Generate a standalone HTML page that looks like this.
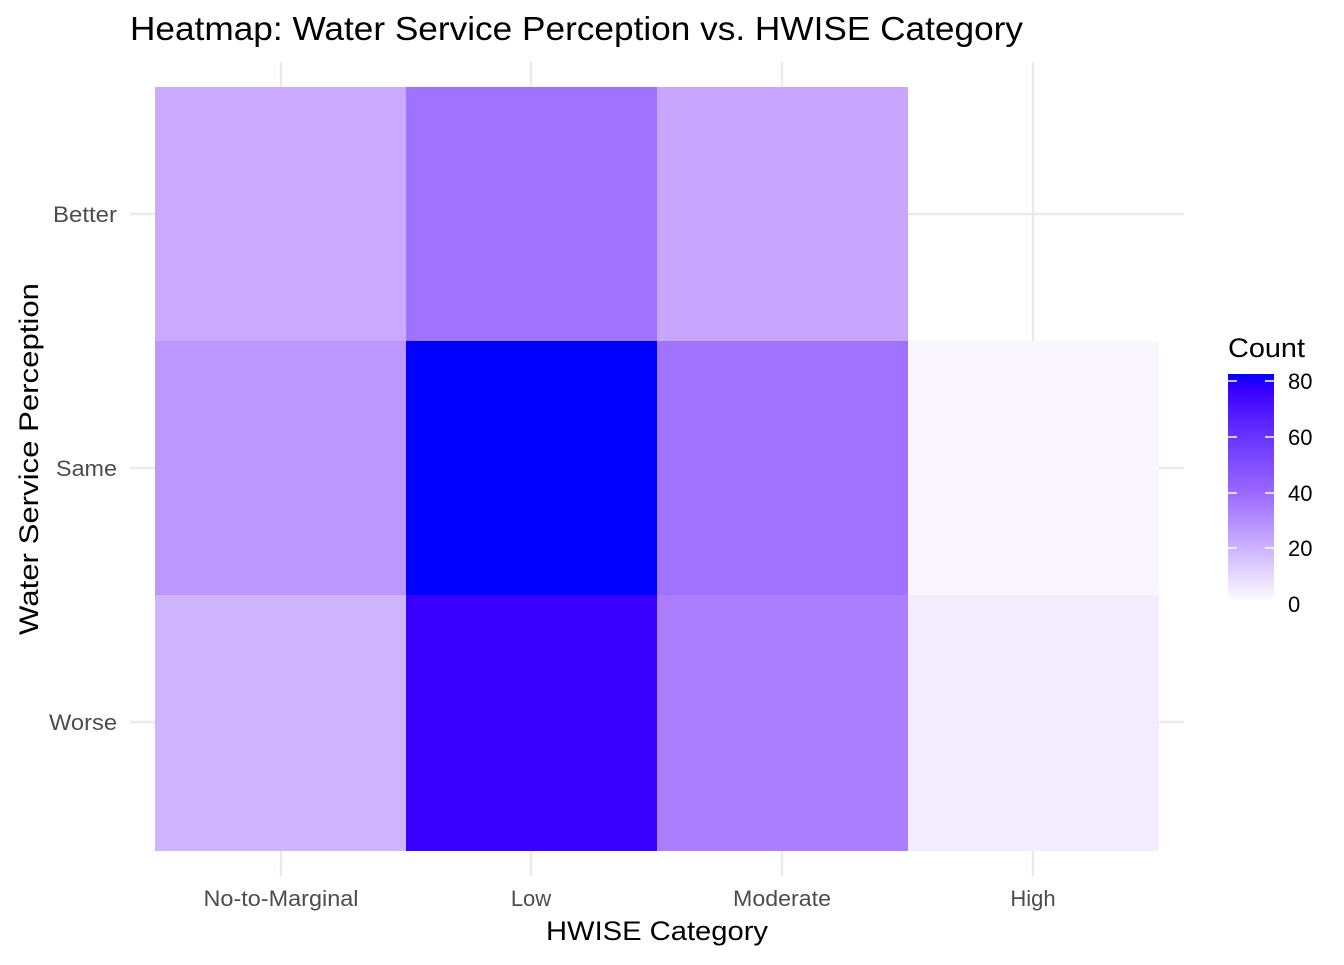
<!DOCTYPE html>
<html><head><style>
body{margin:0;background:#fff;font-family:"Liberation Sans",sans-serif;}
</style></head><body>
<svg width="1344" height="960" xmlns="http://www.w3.org/2000/svg" font-family="Liberation Sans, sans-serif">
<defs>
<linearGradient id="g" x1="0" y1="1" x2="0" y2="0">
<stop offset="0" stop-color="#ffffff"/>
<stop offset="0.24" stop-color="#ccb3ff"/>
<stop offset="0.49" stop-color="#9966ff"/>
<stop offset="0.73" stop-color="#6633ff"/>
<stop offset="0.93" stop-color="#3a00ff"/>
<stop offset="1" stop-color="#0000ff"/>
</linearGradient>
</defs>
<g stroke="#ebebeb" stroke-width="2.5">
<line x1="281" y1="62" x2="281" y2="876"/><line x1="531" y1="62" x2="531" y2="876"/>
<line x1="782" y1="62" x2="782" y2="876"/><line x1="1033" y1="62" x2="1033" y2="876"/>
<line x1="130" y1="214" x2="1184" y2="214"/><line x1="130" y1="468" x2="1184" y2="468"/>
<line x1="130" y1="722" x2="1184" y2="722"/>
</g>
<rect x="155" y="87" width="251" height="254" fill="#c9aaff"/>
<rect x="406" y="87" width="251" height="254" fill="#a073ff"/>
<rect x="657" y="87" width="251" height="254" fill="#c8a6ff"/>
<rect x="155" y="341" width="251" height="254" fill="#bb97ff"/>
<rect x="406" y="341" width="251" height="254" fill="#0000ff"/>
<rect x="657" y="341" width="251" height="254" fill="#a073ff"/>
<rect x="908" y="341" width="251" height="254" fill="#f9f6ff"/>
<rect x="155" y="595" width="251" height="256" fill="#cfb5ff"/>
<rect x="406" y="595" width="251" height="256" fill="#3a00ff"/>
<rect x="657" y="595" width="251" height="256" fill="#ab7dff"/>
<rect x="908" y="595" width="251" height="256" fill="#f3ecff"/>
<text x="130" y="40" font-size="33" fill="#000" textLength="893" lengthAdjust="spacingAndGlyphs">Heatmap: Water Service Perception vs. HWISE Category</text>
<g font-size="22" fill="#4d4d4d" text-anchor="end">
<text x="117" y="222" textLength="64" lengthAdjust="spacingAndGlyphs">Better</text>
<text x="117" y="476" textLength="61" lengthAdjust="spacingAndGlyphs">Same</text>
<text x="117" y="730" textLength="68" lengthAdjust="spacingAndGlyphs">Worse</text>
</g>
<g font-size="22" fill="#4d4d4d" text-anchor="middle">
<text x="281" y="906" textLength="155" lengthAdjust="spacingAndGlyphs">No-to-Marginal</text>
<text x="531" y="906">Low</text>
<text x="782" y="906" textLength="98" lengthAdjust="spacingAndGlyphs">Moderate</text>
<text x="1033" y="906">High</text>
</g>
<text x="657" y="940" font-size="27" text-anchor="middle" textLength="222" lengthAdjust="spacingAndGlyphs">HWISE Category</text>
<text transform="translate(38,459) rotate(-90)" font-size="27" text-anchor="middle" textLength="352" lengthAdjust="spacingAndGlyphs">Water Service Perception</text>
<text x="1228" y="357" font-size="27" textLength="77" lengthAdjust="spacingAndGlyphs">Count</text>
<rect x="1228" y="374" width="46" height="229" fill="url(#g)"/>
<g stroke="#fff" stroke-width="1.5">
<line x1="1228" y1="381" x2="1237" y2="381"/><line x1="1265" y1="381" x2="1274" y2="381"/>
<line x1="1228" y1="437" x2="1237" y2="437"/><line x1="1265" y1="437" x2="1274" y2="437"/>
<line x1="1228" y1="493" x2="1237" y2="493"/><line x1="1265" y1="493" x2="1274" y2="493"/>
<line x1="1228" y1="548" x2="1237" y2="548"/><line x1="1265" y1="548" x2="1274" y2="548"/>
</g>
<g font-size="22" fill="#000">
<text x="1288" y="389">80</text><text x="1288" y="445">60</text><text x="1288" y="501">40</text>
<text x="1288" y="556">20</text><text x="1288" y="612">0</text>
</g>
</svg>
</body></html>
